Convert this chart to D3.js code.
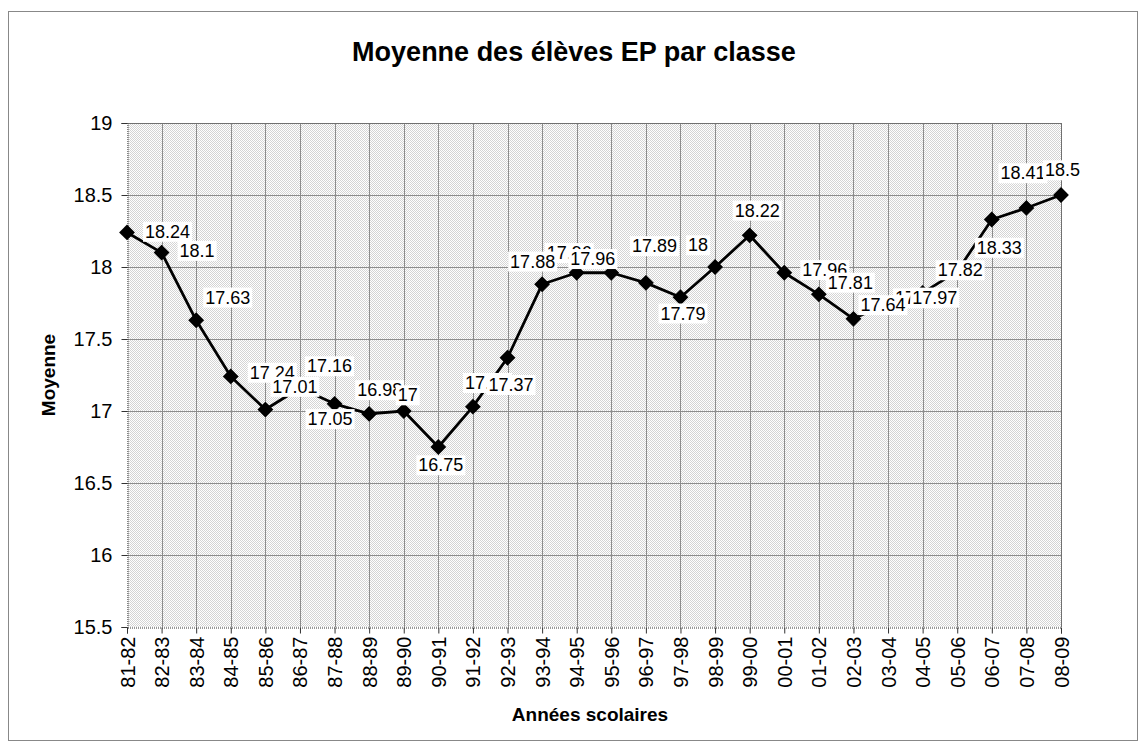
<!DOCTYPE html>
<html>
<head>
<meta charset="utf-8">
<script src="https://cdn.jsdelivr.net/npm/d3@7"></script>
<style>
  body { margin: 0; background: #fff; }
  text { font-family: "Liberation Sans", Arial, sans-serif; fill: #000; }
</style>
</head>
<body>
<div class="chart"></div>
<script>
(() => {
// annees scolaires
var years = ['81-82', '82-83', '83-84', '84-85', '85-86', '86-87', '87-88', '88-89', '89-90', '90-91',
    '91-92', '92-93', '93-94', '94-95', '95-96', '96-97', '97-98', '98-99', '99-00', '00-01',
    '01-02', '02-03', '03-04', '04-05', '05-06', '06-07', '07-08', '08-09'];

// moyenne des eleves par classe
var moyenne = [18.24, 18.1, 17.63, 17.24, 17.01, 17.16, 17.05, 16.98, 17, 16.75,
    17.03, 17.37, 17.88, 17.96, 17.96, 17.89, 17.79, 18, 18.22, 17.96,
    17.81, 17.64, 17.75, 17.82, 17.97, 18.33, 18.41, 18.5];

var yTicks = [15.5, 16, 16.5, 17, 17.5, 18, 18.5, 19];

// where each data label sits relative to its marker (left edge, vertical centre)
var labelDx = [18, 18, 9, 19, 7, 7, -27, -12, -6, -20, -8, -19, -32, -30, -41, -14, -20, -27, -15, 18, 9, 7, 7, 15, -45, -15, -26, -16];
var labelDy = [-1, -2, -23, -4, -23, -22, 15, -24, -16, 18, -24, 27, -23, -20, -14, -37, 16, -22, -25, -3, -12, -14, -5, -23, 26, 28, -35, -25];
// labels that Excel left on top of their neighbours
var onTop = [12, 21];

var width = 1146,
    height = 748,
    margin = {top: 123, right: 85, bottom: 121, left: 127};

var svg = d3.select('div.chart')
    .append('svg')
        .attr('width', width)
        .attr('height', height);

// outer frame
svg.append('rect')
    .attr('x', 8.5).attr('y', 11.5)
    .attr('width', 1129).attr('height', 729)
    .attr('fill', '#fff')
    .attr('stroke', '#888')
    .attr('stroke-width', 1);

var defs = svg.append('defs');
var pat = defs.append('pattern')
    .attr('id', 'dots')
    .attr('width', 2).attr('height', 2)
    .attr('patternUnits', 'userSpaceOnUse');
pat.append('rect').attr('width', 2).attr('height', 2).attr('fill', '#fff');
pat.append('rect').attr('width', 1).attr('height', 1).attr('fill', '#d4d4d4');
pat.append('rect').attr('x', 1).attr('y', 1).attr('width', 1).attr('height', 1).attr('fill', '#d4d4d4');

var x = d3.scalePoint()
    .domain(years)
    .range([margin.left, width - margin.right]);

var y = d3.scaleLinear()
    .domain([15.5, 19])
    .range([height - margin.bottom, margin.top]);

// plot background
svg.append('rect')
    .attr('x', margin.left).attr('y', margin.top)
    .attr('width', width - margin.right - margin.left)
    .attr('height', height - margin.bottom - margin.top)
    .attr('fill', 'url(#dots)');

// grid
svg.append('g')
    .selectAll('line')
    .data(yTicks.slice(1))
    .enter()
    .append('line')
        .attr('x1', margin.left).attr('x2', width - margin.right)
        .attr('y1', (d) => Math.round(y(d)) + 0.5)
        .attr('y2', (d) => Math.round(y(d)) + 0.5)
        .attr('stroke', '#8c8c8c');

svg.append('g')
    .selectAll('line')
    .data(years.slice(1))
    .enter()
    .append('line')
        .attr('x1', (d) => Math.round(x(d)) + 0.5)
        .attr('x2', (d) => Math.round(x(d)) + 0.5)
        .attr('y1', margin.top).attr('y2', height - margin.bottom)
        .attr('stroke', '#8c8c8c');

// axes
var yAxis = svg.append('g')
    .attr('transform', 'translate(' + (margin.left + 0.5) + ',0)')
    .call(d3.axisLeft(y).tickValues(yTicks).tickSize(6).tickPadding(9).tickFormat(d3.format('')));

var xAxis = svg.append('g')
    .attr('transform', 'translate(0,' + (height - margin.bottom + 0.5) + ')')
    .call(d3.axisBottom(x).tickSize(6).tickPadding(10));

yAxis.select('.domain').attr('stroke', '#333').attr('stroke-dasharray', '1,1');
xAxis.select('.domain').attr('stroke', '#333').attr('stroke-dasharray', '1,1');
svg.selectAll('.tick line').attr('stroke', '#333');

yAxis.selectAll('text')
    .style('font-size', '20px')
    .style('font-family', '"Liberation Sans", Arial, sans-serif');

xAxis.selectAll('text')
    .style('font-size', '20px')
    .style('font-family', '"Liberation Sans", Arial, sans-serif')
    .attr('text-anchor', 'end')
    .attr('transform', 'rotate(-90)')
    .attr('x', -9)
    .attr('y', 0)
    .attr('dy', '0.35em');

// top / right border of the plot
svg.append('path')
    .attr('d', 'M' + (margin.left + 0.5) + ',' + (margin.top + 0.5) + 'H' + (width - margin.right + 0.5) + 'V' + (height - margin.bottom))
    .attr('fill', 'none')
    .attr('stroke', '#555')
    .attr('stroke-dasharray', '1,1');

// line
var line = d3.line()
    .x((d, i) => x(years[i]))
    .y((d) => y(d));

svg.append('path')
    .datum(moyenne)
    .attr('d', line)
    .attr('fill', 'none')
    .attr('stroke', '#000')
    .attr('stroke-width', 2.8)
    .attr('stroke-linejoin', 'round');

var diamond = d3.symbol().type(d3.symbolSquare).size(125);

svg.append('g')
    .selectAll('path')
    .data(moyenne)
    .enter()
    .append('path')
        .attr('d', diamond)
        .attr('transform', (d, i) => 'translate(' + x(years[i]) + ',' + y(d) + ') rotate(45)')
        .attr('fill', '#000');

// data labels with white boxes
var labels = svg.append('g');
moyenne.forEach(function(d, i) {
    var g = labels.append('g').attr('class', 'lbl' + i);
    var t = g.append('text')
        .attr('x', x(years[i]) + labelDx[i])
        .attr('y', y(d) + labelDy[i])
        .attr('dy', '0.35em')
        .style('font-size', '18px')
        .text(d3.format('')(d));
    var b = t.node().getBBox();
    g.insert('rect', 'text')
        .attr('x', b.x - 2).attr('y', b.y)
        .attr('width', b.width + 4).attr('height', b.height)
        .attr('fill', '#fff');
});
onTop.forEach((i) => labels.select('.lbl' + i).raise());

// titles
svg.append('text')
    .attr('x', 574).attr('y', 61)
    .attr('text-anchor', 'middle')
    .style('font-size', '27px')
    .style('font-weight', 'bold')
    .text('Moyenne des élèves EP par classe');

svg.append('text')
    .attr('x', 590).attr('y', 721)
    .attr('text-anchor', 'middle')
    .style('font-size', '19px')
    .style('font-weight', 'bold')
    .text('Années scolaires');

svg.append('text')
    .attr('transform', 'translate(55,' + (margin.top + (height - margin.bottom - margin.top) / 2) + ') rotate(-90)')
    .attr('text-anchor', 'middle')
    .style('font-size', '19px')
    .style('font-weight', 'bold')
    .text('Moyenne');
})();
</script>
</body>
</html>
